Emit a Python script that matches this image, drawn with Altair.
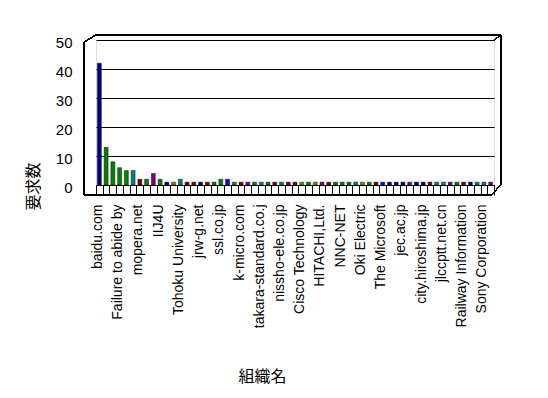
import json
import altair as alt
import pandas as pd

# Category labels that are printed (every third organisation on the axis)
shown_labels = ["baidu.com", "Failure to abide by", "mopera.net", "IIJ4U",
                "Tohoku University", "jrw-g.net", "ssl.co.jp", "k-micro.com",
                "takara-standard.co.j", "nissho-ele.co.jp", "Cisco Technology",
                "HITACHI,Ltd.", "NNC-NET", "Oki Electric", "The Microsoft",
                "jec.ac.jp", "city.hiroshima.jp", "jlccptt.net.cn",
                "Railway Information", "Sony Corporation"]

# Request counts per organisation (59 organisations)
counts = [42, 13, 8, 6, 5, 5, 2, 2, 4, 2, 1, 1, 2, 1, 1, 1, 1, 1, 2, 2,
          1, 1, 1, 1, 1, 1, 1, 1, 1, 1, 1, 1, 1, 1, 1, 1, 1, 1, 1, 1,
          1, 1, 1, 1, 1, 1, 1, 1, 1, 1, 1, 1, 1, 1, 1, 1, 1, 1, 1]

# Series each bar belongs to (drives colour)
series = ["N", "G", "G", "G", "G", "T", "R", "G", "P", "G", "N", "O", "T", "R", "R",
          "N", "R", "G", "G", "B", "T", "R", "P", "G", "T", "G", "R", "T", "R", "R",
          "O", "G", "O", "P", "R", "G", "G", "G", "T", "O", "G", "R", "B", "N", "N",
          "N", "P", "N", "N", "R", "T", "T", "P", "G", "R", "N", "T", "T", "P"]

series_keys = ["N", "G", "T", "P", "R", "O", "B"]
series_colors = ["#000080", "#008000", "#008080", "#800080", "#800000", "#808000", "#0000FF"]

n = len(counts)
all_labels = ["" for _ in range(n)]
for i, lab in enumerate(shown_labels):
    all_labels[i * 3] = lab

df = pd.DataFrame({"idx": list(range(n)), "count": counts, "series": series})

W, H = 398, 145
label_expr = json.dumps(all_labels) + "[datum.value]"

x_enc = alt.X("idx:O",
              scale=alt.Scale(paddingInner=0, paddingOuter=0),
              axis=alt.Axis(title="組織名", labelExpr=label_expr, labelAngle=270,
                            labelOverlap=False, labelFontSize=14, labelFont="Liberation Sans",
                            labelColor="black", labelPadding=9, labelOffset=-2,
                            labelLimit=200,
                            tickBand="extent", tickSize=10, tickColor="black",
                            domainColor="black", titleFont="Noto Sans CJK JP",
                            titleFontSize=16, titleFontWeight="normal", titleColor="black",
                            titleX=166, titleY=191, titleAlign="center",
                            titleBaseline="middle"))

y_enc = alt.Y("count:Q",
              scale=alt.Scale(domain=[0, 50], nice=False),
              axis=alt.Axis(title="要求数", values=[0, 10, 20, 30, 40, 50],
                            grid=True, gridColor="black", gridOpacity=1, gridWidth=1,
                            domain=False, ticks=False, offset=12, labelPadding=12,
                            labelFontSize=15, labelFont="Liberation Sans",
                            labelColor="black", labelOffset=2,
                            titleFont="Noto Sans CJK JP", titleFontSize=16,
                            titleFontWeight="normal", titleColor="black",
                            titleX=-51, titleY=146, titleAngle=270,
                            titleAlign="center", titleBaseline="middle"))

bars = alt.Chart(df).mark_bar(size=4, stroke="black", strokeWidth=0.4).encode(
    x=x_enc,
    y=y_enc,
    color=alt.Color("series:N", scale=alt.Scale(domain=series_keys, range=series_colors),
                    legend=None),
)

def seg(x1, y1, x2, y2):
    return alt.Chart(df).mark_rule(color="black", strokeWidth=1).encode(
        x=alt.value(x1), y=alt.value(y1), x2=alt.value(x2), y2=alt.value(y2))

frame = [
    seg(0, -5, 405, -5),        # top outer edge
    seg(-12, 2, 0, -5),         # top-left diagonal
    seg(-12, 2, -12, 155),      # left front edge
    seg(-12, 155, 396, 155),    # bottom front edge
    seg(405, -5, 405, 144),     # right outer edge
    seg(405, 144, 396, 155),    # bottom-right diagonal
    seg(398, 0, 405, -5),       # top-right diagonal
]

chart = alt.layer(bars, *frame).properties(
    width=W, height=H,
    autosize=alt.AutoSizeParams(type="none"),
    padding={"left": 88, "top": 32, "right": 30, "bottom": 200},
).configure_view(stroke="black", strokeWidth=1, fill="white").configure(background="white")

chart.save("out.html", embed_options={"renderer": "svg", "actions": False})
